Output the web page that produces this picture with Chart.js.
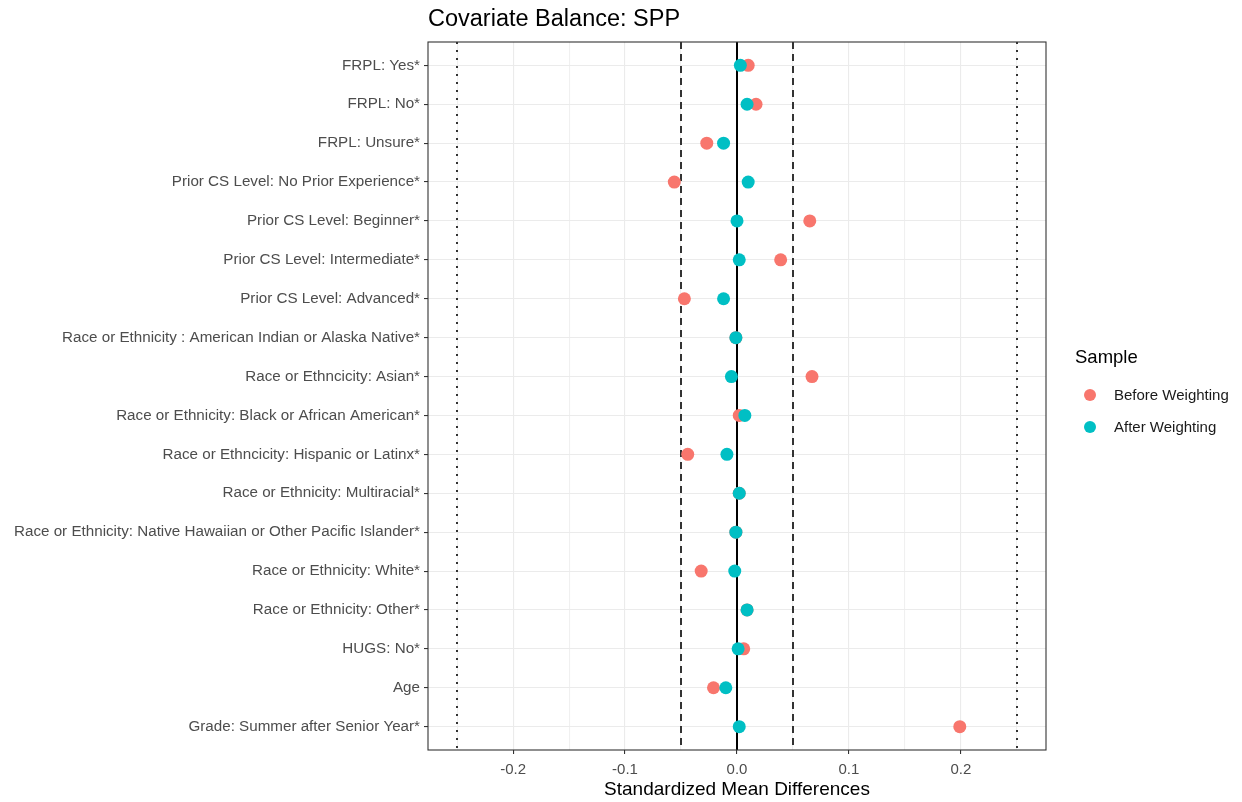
<!DOCTYPE html>
<html>
<head>
<meta charset="utf-8">
<script src="https://cdn.jsdelivr.net/npm/chart.js@4.4.1/dist/chart.umd.min.js"></script>
<style>
  html, body { margin: 0; padding: 0; background: #fff; }
  #wrap { width: 1242px; height: 802px; }
</style>
</head>
<body>
<div id="wrap"><canvas id="myChart" width="1242" height="802"></canvas></div>
<script>
// categorias del eje y (de arriba hacia abajo)
const covariables = [
  "FRPL: Yes*",
  "FRPL: No*",
  "FRPL: Unsure*",
  "Prior CS Level: No Prior Experience*",
  "Prior CS Level: Beginner*",
  "Prior CS Level: Intermediate*",
  "Prior CS Level: Advanced*",
  "Race or Ethnicity : American Indian or Alaska Native*",
  "Race or Ethncicity: Asian*",
  "Race or Ethnicity: Black or African American*",
  "Race or Ethncicity: Hispanic or Latinx*",
  "Race or Ethnicity: Multiracial*",
  "Race or Ethnicity: Native Hawaiian or Other Pacific Islander*",
  "Race or Ethnicity: White*",
  "Race or Ethnicity: Other*",
  "HUGS: No*",
  "Age",
  "Grade: Summer after Senior Year*"
];

// diferencias estandarizadas
const antesPonderar = [0.010, 0.017, -0.027, -0.056, 0.065, 0.039, -0.047, -0.001, 0.067, 0.002, -0.044, 0.002, -0.001, -0.032, 0.009, 0.006, -0.021, 0.199];
const despuesPonderar = [0.003, 0.009, -0.012, 0.010, 0.000, 0.002, -0.012, -0.001, -0.005, 0.007, -0.009, 0.002, -0.001, -0.002, 0.009, 0.001, -0.010, 0.002];

// etiquetas del eje x
const marcasX = [-0.25, -0.2, -0.15, -0.1, -0.05, 0, 0.05, 0.1, 0.15, 0.2, 0.25];
const marcasPrincipales = [-0.2, -0.1, 0, 0.1, 0.2];

// lineas de referencia
const lineasUmbral = [-0.05, 0.05];
const lineasPunteadas = [-0.25, 0.25];

const colorAntes = "#F8766D";
const colorDespues = "#00BFC4";
const fuente = "'Liberation Sans', Arial, sans-serif";

function esPrincipal(v) {
  return marcasPrincipales.some(m => Math.abs(m - v) < 1e-9);
}

// dibuja lineas verticales, borde del panel, titulo y leyenda
const extras = {
  id: "extras",
  beforeDatasetsDraw(chart) {
    const ctx = chart.ctx;
    const area = chart.chartArea;
    const x = chart.scales.x;
    ctx.save();
    ctx.strokeStyle = "#333333";
    ctx.lineWidth = 2;
    ctx.setLineDash([7, 5]);
    lineasUmbral.forEach(v => {
      const px = Math.round(x.getPixelForValue(v));
      ctx.beginPath();
      ctx.moveTo(px, area.top);
      ctx.lineTo(px, area.bottom);
      ctx.stroke();
    });
    ctx.setLineDash([2, 6]);
    lineasPunteadas.forEach(v => {
      const px = Math.round(x.getPixelForValue(v));
      ctx.beginPath();
      ctx.moveTo(px, area.top);
      ctx.lineTo(px, area.bottom);
      ctx.stroke();
    });
    ctx.setLineDash([]);
    ctx.strokeStyle = "#000000";
    const cero = x.getPixelForValue(0);
    ctx.beginPath();
    ctx.moveTo(cero, area.top);
    ctx.lineTo(cero, area.bottom);
    ctx.stroke();
    ctx.restore();
  },
  afterDraw(chart) {
    const ctx = chart.ctx;
    const area = chart.chartArea;
    ctx.save();
    ctx.strokeStyle = "#333333";
    ctx.lineWidth = 1.1;
    ctx.strokeRect(area.left, area.top, area.right - area.left, area.bottom - area.top);

    ctx.fillStyle = "#000000";
    ctx.font = "23.5px " + fuente;
    ctx.textBaseline = "alphabetic";
    ctx.textAlign = "left";
    ctx.fillText("Covariate Balance: SPP", area.left, 26);

    // leyenda
    ctx.font = "18.5px " + fuente;
    ctx.textBaseline = "middle";
    ctx.fillText("Sample", 1075, 358);
    const items = [["Before Weighting", colorAntes, 395], ["After Weighting", colorDespues, 427]];
    ctx.font = "15px " + fuente;
    items.forEach(it => {
      ctx.fillStyle = it[1];
      ctx.beginPath();
      ctx.arc(1090, it[2], 6, 0, Math.PI * 2);
      ctx.fill();
      ctx.fillStyle = "#1a1a1a";
      ctx.fillText(it[0], 1114, it[2] + 1);
    });
    ctx.restore();
  }
};

const config = {
  type: "scatter",
  data: {
    datasets: [
      {
        label: "Before Weighting",
        data: antesPonderar.map((v, i) => ({ x: v, y: i })),
        backgroundColor: colorAntes,
        borderWidth: 0,
        pointRadius: 6.5,
        pointHoverRadius: 6.5,
        order: 2
      },
      {
        label: "After Weighting",
        data: despuesPonderar.map((v, i) => ({ x: v, y: i })),
        backgroundColor: colorDespues,
        borderWidth: 0,
        pointRadius: 6.5,
        pointHoverRadius: 6.5,
        order: 1
      }
    ]
  },
  options: {
    responsive: false,
    animation: false,
    layout: { padding: { top: 42, right: 196, left: 0, bottom: 0 } },
    plugins: {
      legend: { display: false },
      tooltip: { enabled: false },
      title: { display: false }
    },
    scales: {
      x: {
        type: "linear",
        min: -0.276,
        max: 0.276,
        afterBuildTicks: scale => { scale.ticks = marcasX.map(v => ({ value: v })); },
        afterFit: scale => { scale.height = 52; },
        grid: {
          color: ctx => esPrincipal(ctx.tick.value) ? "#EBEBEB" : "#F0F0F0",
          lineWidth: 1.1,
          tickColor: ctx => esPrincipal(ctx.tick.value) ? "#333333" : "rgba(0,0,0,0)",
          tickLength: 4,
          drawOnChartArea: true
        },
        border: { display: false },
        ticks: {
          autoSkip: false,
          maxRotation: 0,
          padding: 7,
          color: "#4D4D4D",
          font: { family: fuente, size: 15 },
          callback: v => esPrincipal(v) ? (Math.abs(v) < 1e-9 ? "0.0" : v.toFixed(1)) : ""
        },
        title: {
          display: true,
          text: "Standardized Mean Differences",
          color: "#000000",
          font: { family: fuente, size: 19 },
          padding: { top: 0, bottom: 1 }
        }
      },
      y: {
        type: "linear",
        reverse: true,
        min: -0.6,
        max: covariables.length - 1 + 0.6,
        afterBuildTicks: scale => { scale.ticks = covariables.map((c, i) => ({ value: i })); },
        afterFit: scale => { scale.width = 428; },
        grid: {
          color: "#EBEBEB",
          lineWidth: 1.1,
          tickColor: "#333333",
          tickLength: 4
        },
        border: { display: false },
        ticks: {
          autoSkip: false,
          padding: 4,
          color: "#4D4D4D",
          font: { family: fuente, size: 15.2 },
          callback: v => covariables[v] || ""
        }
      }
    }
  },
  plugins: [extras]
};

const grafico = new Chart(document.getElementById("myChart"), config);
</script>
</body>
</html>
